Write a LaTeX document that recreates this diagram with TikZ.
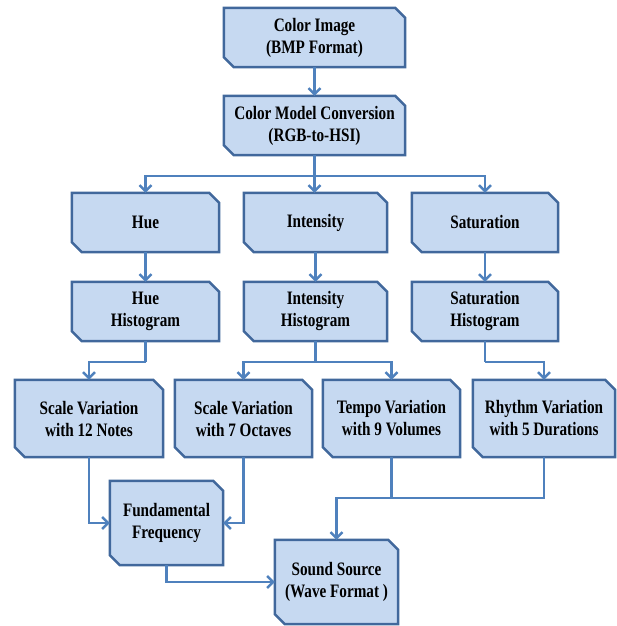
\documentclass[tikz,border=0pt]{standalone}
\usepackage{fontspec}
\setmainfont{Liberation Serif}[FakeStretch=0.8]
\usetikzlibrary{arrows.meta,backgrounds}
\definecolor{boxfill}{HTML}{C6D9F1}
\definecolor{boxline}{HTML}{41689C}
\definecolor{arrowc}{HTML}{4F81BD}
\begin{document}
\begin{tikzpicture}[x=1pt,y=-1pt,
  blk/.style 2 args={minimum width=#1,minimum height=#2,inner sep=0pt,align=center,
    font=\bfseries\fontsize{19}{22}\selectfont},
  boxshape/.style={fill=boxfill,draw=boxline,line width=2.5pt},
  conn/.style={draw=arrowc,line width=2.4pt},
  arr/.style={conn,-{Straight Barb[length=6pt,width=12pt]}}]
\useasboundingbox (0,0) rectangle (617,626);
\node[blk={181pt}{59pt}] (ci) at (314.5,37.5) {Color Image\\(BMP Format)};
\node[blk={181pt}{59pt}] (cmc) at (314.5,125.5) {Color Model Conversion\\(RGB-to-HSI)};
\node[blk={147pt}{59pt}] (hue) at (145.5,222.5) {Hue};
\node[blk={143pt}{59pt}] (int) at (315.5,222.5) {Intensity};
\node[blk={146pt}{59pt}] (sat) at (485,222.5) {Saturation};
\node[blk={147pt}{59pt}] (hh) at (145.5,311.5) {Hue\\Histogram};
\node[blk={143pt}{59pt}] (ih) at (315.5,311.5) {Intensity\\Histogram};
\node[blk={146pt}{59pt}] (sh) at (485,311.5) {Saturation\\Histogram};
\node[blk={148pt}{77pt}] (sv12) at (89,418.5) {Scale Variation\\with 12 Notes};
\node[blk={137pt}{77pt}] (sv7) at (243.5,418.5) {Scale Variation\\with 7 Octaves};
\node[blk={137pt}{77pt}] (tempo) at (391.5,418.5) {Tempo Variation\\with 9 Volumes};
\node[blk={142pt}{77pt}] (rhythm) at (544,418.5) {Rhythm Variation\\with 5 Durations};
\node[blk={113pt}{84pt}] (ff) at (166.5,523) {Fundamental\\Frequency};
\node[blk={123pt}{84pt}] (ss) at (336.5,582) {Sound Source\\(Wave Format )};
\begin{scope}[on background layer]
\foreach \n in {ci,cmc,hue,int,sat,hh,ih,sh,sv12,sv7,tempo,rhythm,ff,ss}
  \draw[boxshape] (\n.north west) -- ([xshift=-10pt]\n.north east) -- ([yshift=-10pt]\n.north east)
    -- (\n.south east) -- ([xshift=10pt]\n.south west) -- ([yshift=10pt]\n.south west) -- cycle;
\end{scope}
\coordinate (j1) at (314.5,176);
\coordinate (j2) at (145.5,362);
\coordinate (j3) at (315.5,362);
\coordinate (j4) at (485,362);
\coordinate (j5) at (336.5,498);
\draw[arr] (ci.south) -- (cmc.north);
\draw[conn] (cmc.south) -- (j1);
\draw[arr] (j1) -| (hue.north);
\draw[arr] (j1) -| (sat.north);
\draw[arr] (j1) -- (j1 |- int.north);
\draw[arr] (hue.south) -- (hh.north);
\draw[arr] (int.south) -- (ih.north);
\draw[arr] (sat.south) -- (sh.north);
\draw[conn] (hh.south) -- (j2);
\draw[arr] (j2) -| (sv12.north);
\draw[conn] (ih.south) -- (j3);
\draw[arr] (j3) -| (sv7.north);
\draw[arr] (j3) -| (tempo.north);
\draw[conn] (sh.south) -- (j4);
\draw[arr] (j4) -| (rhythm.north);
\draw[arr] (sv12.south) |- (ff.west);
\draw[arr] (sv7.south) |- (ff.east);
\draw[conn] (tempo.south) -- (tempo.south |- j5);
\draw[arr] (rhythm.south) |- (j5) -- (ss.north);
\draw[arr] (ff.south) |- (ss.west);
\end{tikzpicture}
\end{document}
